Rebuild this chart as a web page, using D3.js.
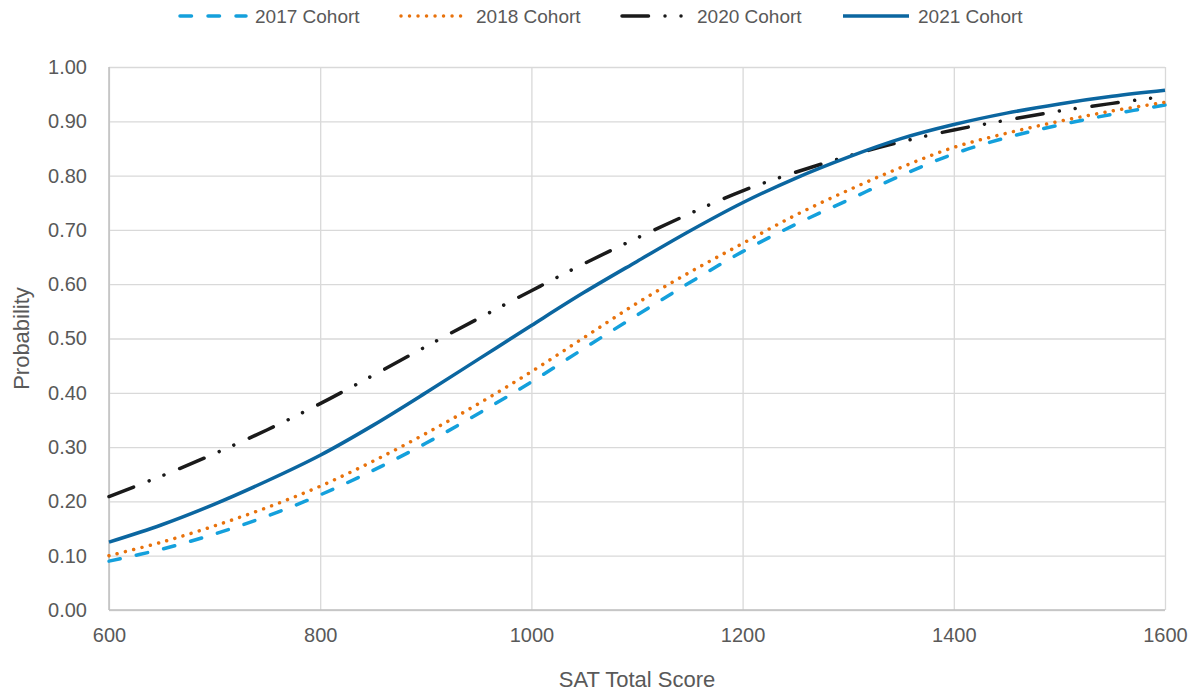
<!DOCTYPE html>
<html>
<head>
<meta charset="utf-8">
<script src="https://cdn.jsdelivr.net/npm/d3@7"></script>
<style>
  body { margin: 0; background: #fff; }
  svg text { font-family: "Liberation Sans", Arial, sans-serif; fill: #595959; }
  .grid line { stroke: #d9d9d9; stroke-width: 1.3; }
  .grid path { display: none; }
  .axis path, .axis line { display: none; }
</style>
</head>
<body>
<div id="chart"></div>
<script>
'use strict';

// SAT score points (x)
const scores = [600, 650, 700, 750, 800, 850, 900, 950, 1000, 1050, 1100,
                1150, 1200, 1250, 1300, 1350, 1400, 1450, 1500, 1550, 1600];

// probabilities
const cohort2017 = [0.090, 0.112, 0.140, 0.173, 0.212, 0.257, 0.307, 0.362, 0.420, 0.482, 0.543,
                    0.603, 0.660, 0.710, 0.755, 0.800, 0.840, 0.870, 0.893, 0.913, 0.930];
const cohort2018 = [0.100, 0.125, 0.155, 0.189, 0.228, 0.274, 0.325, 0.380, 0.439, 0.502, 0.565,
                    0.622, 0.675, 0.727, 0.773, 0.815, 0.852, 0.878, 0.900, 0.919, 0.935];
const cohort2020 = [0.209, 0.247, 0.288, 0.332, 0.380, 0.432, 0.485, 0.537, 0.588, 0.638, 0.685,
                    0.730, 0.772, 0.806, 0.836, 0.862, 0.884, 0.902, 0.919, 0.933, 0.946];
const cohort2021 = [0.125, 0.157, 0.195, 0.238, 0.285, 0.340, 0.400, 0.462, 0.524, 0.585, 0.642,
                    0.698, 0.750, 0.795, 0.834, 0.868, 0.894, 0.915, 0.932, 0.946, 0.957];

const seriesNames = ['2017 Cohort', '2018 Cohort', '2020 Cohort', '2021 Cohort'];

const xTicks = [600, 800, 1000, 1200, 1400, 1600];
const yTicks = [0, 0.1, 0.2, 0.3, 0.4, 0.5, 0.6, 0.7, 0.8, 0.9, 1.0];

const series = [
    {name: seriesNames[0], values: cohort2017, color: '#14A0DC', dash: '11.5 16.5', cap: 'round'},
    {name: seriesNames[1], values: cohort2018, color: '#E8720C', dash: '0.01 8.5', cap: 'round'},
    {name: seriesNames[2], values: cohort2020, color: '#1a1a1a', dash: '26.5 16.5 0.01 16 0.01 17', cap: 'round'},
    {name: seriesNames[3], values: cohort2021, color: '#0B66A0', dash: null, cap: 'butt'}
];

const W = 1198, H = 696;
const margin = {top: 67, right: 33, bottom: 86, left: 109};
const width = W - margin.left - margin.right;
const height = H - margin.top - margin.bottom;

const root = d3.select('#chart').append('svg')
    .attr('width', W)
    .attr('height', H);

const svg = root.append('g')
    .attr('transform', 'translate(' + margin.left + ',' + margin.top + ')');

const x = d3.scaleLinear().domain([600, 1600]).range([0, width]);
const y = d3.scaleLinear().domain([0, 1]).range([height, 0]);

// gridlines
svg.append('g')
    .attr('class', 'grid')
    .attr('transform', 'translate(0,' + height + ')')
    .call(d3.axisBottom(x).tickValues(xTicks).tickSize(-height).tickFormat(''));

svg.append('g')
    .attr('class', 'grid')
    .call(d3.axisLeft(y).tickValues(yTicks).tickSize(-width).tickFormat(''));

// axis lines
svg.append('line')
    .attr('x1', 0).attr('x2', 0).attr('y1', 0).attr('y2', height)
    .attr('stroke', '#bfbfbf').attr('stroke-width', 1.5);
svg.append('line')
    .attr('x1', 0).attr('x2', width).attr('y1', height).attr('y2', height)
    .attr('stroke', '#bfbfbf').attr('stroke-width', 1.5);

// tick labels
const xAxis = svg.append('g')
    .attr('class', 'axis')
    .attr('transform', 'translate(0,' + height + ')')
    .call(d3.axisBottom(x).tickValues(xTicks).tickSize(0).tickPadding(18).tickFormat(d3.format('d')));
xAxis.selectAll('text').style('font-size', '20px');

const yAxis = svg.append('g')
    .attr('class', 'axis')
    .call(d3.axisLeft(y).tickValues(yTicks).tickSize(0).tickPadding(22).tickFormat(d3.format('.2f')));
yAxis.selectAll('text').style('font-size', '20px');

// lines
const line = d3.line()
    .curve(d3.curveCatmullRom.alpha(0.5))
    .x((d, i) => x(scores[i]))
    .y(d => y(d));

series.forEach(s => {
    svg.append('path')
        .datum(s.values)
        .attr('fill', 'none')
        .attr('stroke', s.color)
        .attr('stroke-width', 3.5)
        .attr('stroke-linecap', s.cap)
        .attr('stroke-dasharray', s.dash)
        .attr('d', line);
});

// axis titles
root.append('text')
    .attr('x', margin.left + width / 2)
    .attr('y', 687)
    .attr('text-anchor', 'middle')
    .style('font-size', '22px')
    .text('SAT Total Score');

root.append('text')
    .attr('transform', 'translate(29,' + (margin.top + height / 2) + ') rotate(-90)')
    .attr('text-anchor', 'middle')
    .style('font-size', '22px')
    .text('Probability');

// legend
const legendX = [178, 399, 620, 841];
const legend = root.append('g');
series.forEach((s, i) => {
    const g = legend.append('g').attr('transform', 'translate(' + legendX[i] + ',16)');
    g.append('line')
        .attr('x1', 2).attr('x2', 68).attr('y1', 0).attr('y2', 0)
        .attr('stroke', s.color)
        .attr('stroke-width', 3.5)
        .attr('stroke-linecap', s.cap)
        .attr('stroke-dasharray', s.dash);
    g.append('text')
        .attr('x', 77)
        .attr('y', 7)
        .style('font-size', '19px')
        .text(s.name);
});
</script>
</body>
</html>
